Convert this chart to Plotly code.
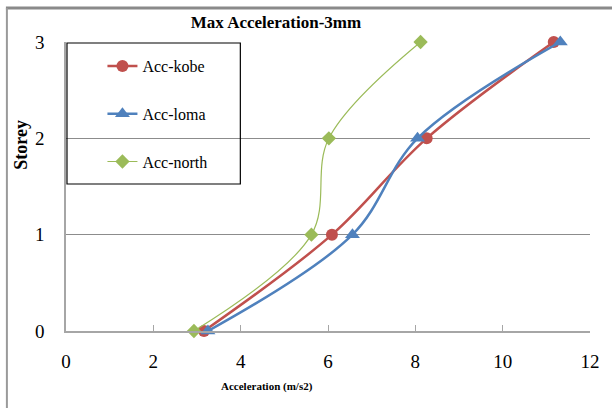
import plotly.graph_objects as go

storey = [0, 1, 2, 3]
acc_kobe = [3.16, 6.09, 8.26, 11.17]
acc_loma = [3.25, 6.56, 8.05, 11.32]
acc_north = [2.93, 5.62, 6.02, 8.12]
x_ticks = [0, 2, 4, 6, 8, 10, 12]
y_ticks = [0, 1, 2, 3]

W, H = 612, 408
L, R, T, B = 66, 14, 42, 77
pw, ph = W - L - R, H - T - B

def px_x(p):
    return (p - L) / pw

def px_y(p):
    return (H - B - p) / ph

serif = "Liberation Serif"

fig = go.Figure()
fig.add_trace(go.Scatter(
    x=acc_kobe, y=storey, name="Acc-kobe", mode="lines+markers", cliponaxis=False,
    line=dict(color="#C0504D", width=2.5, shape="spline", smoothing=1),
    marker=dict(symbol="circle", size=12, color="#C0504D"),
    legendgroup="a"))
fig.add_trace(go.Scatter(
    x=acc_loma, y=storey, name="Acc-loma", mode="lines+markers", cliponaxis=False,
    line=dict(color="#4F81BD", width=2.5, shape="spline", smoothing=1),
    marker=dict(symbol="triangle-up", size=13, color="#4F81BD"),
    legendgroup="b"))
fig.add_trace(go.Scatter(
    x=acc_north, y=storey, name="Acc-north", mode="lines+markers", cliponaxis=False,
    line=dict(color="#9BBB59", width=1.2, shape="spline", smoothing=1),
    marker=dict(symbol="diamond", size=11, color="#9BBB59"),
    legendgroup="c"))

fig.update_layout(
    width=W, height=H,
    margin=dict(l=L, r=R, t=T, b=B, pad=0),
    paper_bgcolor="white", plot_bgcolor="white",
    font=dict(family=serif, color="black"),
    title=dict(text="<b>Max Acceleration-3mm</b>", font=dict(size=17, family=serif),
               x=276 / W, xref="container", xanchor="center",
               y=1 - 22 / H, yref="container", yanchor="middle"),
    xaxis=dict(range=[0, 12], tickvals=x_ticks, ticktext=[str(v) for v in x_ticks],
               showgrid=False, zeroline=False, showline=True, linecolor="#a6a6a6", linewidth=1.5,
               ticks="inside", ticklen=6, tickcolor="#a6a6a6", tickwidth=1,
               tickfont=dict(size=19, family=serif), ticklabelstandoff=12),
    yaxis=dict(range=[0, 3], tickvals=y_ticks, ticktext=[str(v) for v in y_ticks],
               showgrid=True, gridcolor="#8c8c8c", gridwidth=1, zeroline=False,
               showline=True, linecolor="#a6a6a6", linewidth=1.5, ticks="",
               tickfont=dict(size=19, family=serif), ticklabelstandoff=16),
    legend=dict(x=px_x(103), y=px_y(49), xanchor="left", yanchor="top",
                bgcolor="rgba(0,0,0,0)", borderwidth=0, tracegroupgap=24,
                font=dict(size=16, family=serif)),
    showlegend=True,
)

# legend frame
fig.add_shape(type="rect", xref="paper", yref="paper",
              x0=px_x(67), x1=px_x(243), y0=px_y(184), y1=px_y(43),
              line=dict(color="black", width=1.2), fillcolor="rgba(0,0,0,0)", layer="above")
# outer chart frame
fig.add_shape(type="line", xref="paper", yref="paper",
              x0=px_x(5), x1=px_x(630), y0=px_y(8), y1=px_y(8),
              line=dict(color="#8a8a8a", width=3))
fig.add_shape(type="line", xref="paper", yref="paper",
              x0=px_x(6), x1=px_x(6), y0=px_y(8), y1=px_y(430),
              line=dict(color="#9a9a9a", width=2))

fig.add_annotation(text="<b>Storey</b>", textangle=-90, xref="paper", yref="paper",
                   x=px_x(20), y=px_y(145), showarrow=False,
                   font=dict(size=18, family=serif), xanchor="center", yanchor="middle")
fig.add_annotation(text="<b>Acceleration (m/s2)</b>", xref="paper", yref="paper",
                   x=px_x(270), y=px_y(386), showarrow=False,
                   font=dict(size=11, family=serif), xanchor="center", yanchor="middle")

fig.write_html("out.html")
